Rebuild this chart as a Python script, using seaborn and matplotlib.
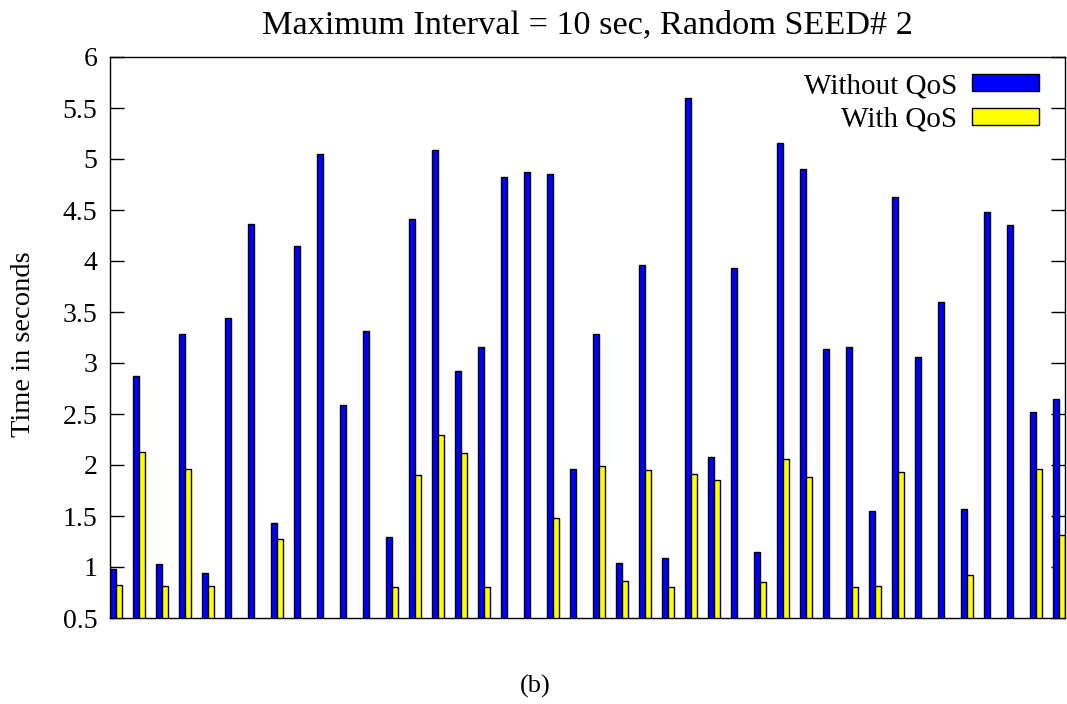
import numpy as np
import pandas as pd
import matplotlib
matplotlib.use("Agg")
import matplotlib.pyplot as plt
from matplotlib.patches import Patch
from matplotlib.ticker import FuncFormatter
import seaborn as sns

nan = np.nan
groups = list(range(1, 43))
without_qos = [0.98, 2.87, 1.03, 3.28, 0.94, 3.44, 4.36, 1.43, 4.15, 5.05,
               2.59, 3.31, 1.29, 4.41, 5.09, 2.92, 3.16, 4.82, 4.87, 4.85,
               1.96, 3.28, 1.04, 3.96, 1.09, 5.60, 2.08, 3.93, 1.15, 5.16,
               4.90, 3.14, 3.16, 1.55, 4.63, 3.06, 3.60, 1.57, 4.48, 4.35,
               2.52, 2.65]
with_qos = [0.82, 2.13, 0.81, 1.96, 0.81, nan, nan, 1.27, nan, nan,
            nan, nan, 0.80, 1.90, 2.29, 2.12, 0.80, nan, nan, 1.48,
            nan, 1.99, 0.86, 1.95, 0.80, 1.91, 1.85, nan, 0.85, 2.06,
            1.88, nan, 0.80, 0.81, 1.93, nan, nan, 0.92, nan, nan,
            1.96, 1.31]
series_names = ["Without QoS", "With QoS"]
colors = ["#0000ff", "#ffff00"]
title = "Maximum Interval = 10 sec, Random SEED# 2"
ylabel = "Time in seconds"
caption = "(b)"

df = pd.DataFrame({
    "group": groups * 2,
    "value": without_qos + with_qos,
    "series": [series_names[0]] * len(groups) + [series_names[1]] * len(groups),
})

sns.set_theme(style="white")
plt.rcParams["font.family"] = ["Liberation Serif", "DejaVu Serif"]
for k in ["text.color", "axes.labelcolor", "xtick.color", "ytick.color", "axes.edgecolor"]:
    plt.rcParams[k] = "black"

fig = plt.figure(figsize=(10.67, 7.04), dpi=100)
ax = fig.add_axes([110 / 1067, 1 - 618 / 704, (1065 - 110) / 1067, (618 - 57) / 704])

sns.barplot(data=df, x="group", y="value", hue="series", palette=colors,
            width=0.5, dodge=True, edgecolor="black", linewidth=1.0,
            errorbar=None, ax=ax, legend=False, saturation=1)

ax.set_xlim(-0.25, len(groups) - 1 + 0.25)
ax.set_ylim(0.5, 6)
ax.set_yticks(np.arange(0.5, 6.01, 0.5))
ax.yaxis.set_major_formatter(FuncFormatter(lambda v, p: f"{v:g}"))
ax.set_xticks([])
ax.set_xlabel("")
ax.tick_params(axis="y", which="major", direction="in", length=10, width=1,
               left=True, right=True, labelsize=20, pad=9, colors="black")
for s in ax.spines.values():
    s.set_visible(True)
    s.set_color("black")
    s.set_linewidth(1.0)

ax.set_title(title, fontsize=24.7, pad=17)
ax.set_ylabel(ylabel, fontsize=20.5)
ax.yaxis.set_label_coords(-74 / 955, 0.5 - 7 / 561)

handles = [Patch(facecolor=c, edgecolor="black", linewidth=1.0) for c in colors]
leg = ax.legend(handles, series_names, loc="upper right", frameon=False,
                bbox_to_anchor=(1.0, 1.0 + 10 / 561),
                markerfirst=False, fontsize=21, handlelength=2.3,
                handleheight=0.52, labelspacing=0.25, borderaxespad=0.6,
                borderpad=0.3, handletextpad=0.5)

fig.text(535 / 1067, 1 - 686 / 704, caption, ha="center", va="center", fontsize=19)

fig.savefig("out.png", dpi=100)
